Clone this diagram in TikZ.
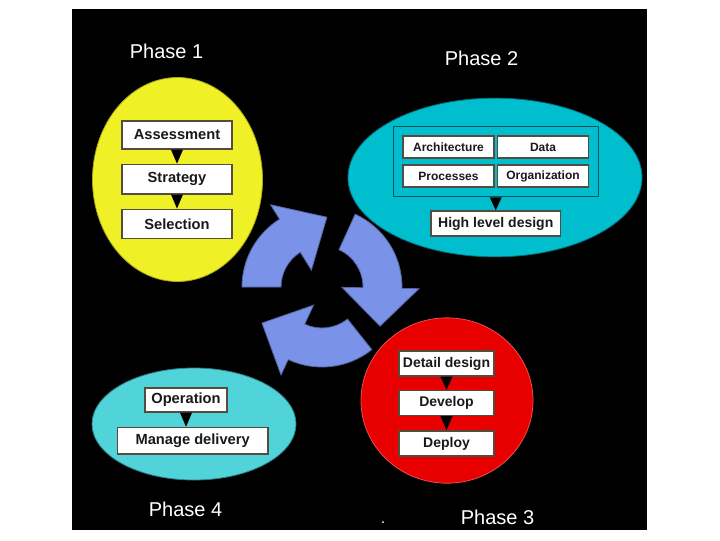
\documentclass[tikz,border=0pt]{standalone}
\usepackage{fontspec}
\setmainfont{Liberation Sans}
\usepackage{xcolor}
\usetikzlibrary{shapes.geometric, positioning, fit}
\definecolor{phyellow}{RGB}{240,240,38}
\definecolor{phcyan}{RGB}{0,190,206}
\definecolor{phcyanlt}{RGB}{80,212,218}
\definecolor{phred}{RGB}{232,0,0}
\definecolor{cycblue}{RGB}{122,146,232}
\definecolor{boxline}{RGB}{85,75,65}
\definecolor{boxtext}{RGB}{25,25,25}
\tikzstyle{phase}      = [ellipse, inner sep=0pt, line width=0.6pt]
\tikzstyle{phaselabel} = [text=white, font=\fontsize{15}{16}\selectfont]
\tikzstyle{stepbox}    = [rectangle, draw=boxline, line width=1.1pt, fill=white,
                          inner sep=0pt, text=boxtext,
                          font=\bfseries\fontsize{11}{12}\selectfont]
\tikzstyle{subbox}     = [stepbox, minimum width=68pt, minimum height=16.5pt,
                          font=\bfseries\fontsize{9}{10}\selectfont]
\tikzstyle{tri}        = [fill=black]
\tikzstyle{cyclearrow} = [fill=cycblue, draw=cycblue!70!black, line width=0.6pt]
% one curved arrow of the cycle: tail angle, head base angle, tip angle
\newcommand{\turnarrow}[3]{%
  \filldraw[cyclearrow] (#1:80) arc[start angle=#1, end angle=#2, radius=80]
    -- (#2:97) -- (#3:70) -- (#2:20) -- (#2:41)
    arc[start angle=#2, end angle=#1, radius=41] -- cycle;}

\begin{document}
\begin{tikzpicture}[x=0.75pt, y=-0.75pt]

  \fill[white] (0,0) rectangle (720,540);
  \useasboundingbox (0,0) rectangle (720,540);
  \fill[black] (72,9) rectangle (647,530);

  % phase areas
  \node[phase, fill=phyellow, draw=phyellow!70!black,
        minimum width=127.5pt, minimum height=153pt] (ph1) at (177.5,179.5) {};
  \node[phase, fill=phcyan, draw=phcyan!60!black,
        minimum width=220.5pt, minimum height=119pt] (ph2) at (495,177.5) {};
  \node[phase, fill=phred, draw=phred!70!white,
        minimum width=129pt, minimum height=124pt] (ph3) at (447,400.5) {};
  \node[phase, fill=phcyanlt, draw=phcyanlt!60!black,
        minimum width=153pt, minimum height=84pt] (ph4) at (194,424) {};

  \node[phaselabel] (lab1) at (166.5,51) {Phase 1};
  \node[phaselabel] (lab2) at (481.5,58) {Phase 2};
  \node[phaselabel] (lab3) at (497.5,517) {Phase 3};
  \node[phaselabel] (lab4) at (185.5,509) {Phase 4};
  \fill[white] (383,522) circle[radius=1];

  % cycle arrows
  \begin{scope}[shift={(322,287)}]
    \turnarrow{180}{238}{274}
    \turnarrow{294.5}{361}{394}
    \turnarrow{51.5}{115}{149}
  \end{scope}

  % phase 1
  \node[stepbox, minimum width=82.5pt, minimum height=21pt] (assess) at (177,135) {Assessment};
  \node[stepbox, minimum width=82.5pt, minimum height=22pt, below=10.5pt of assess] (strat) {Strategy};
  \node[stepbox, minimum width=82.5pt, minimum height=22pt, below=10.5pt of strat] (select) {Selection};
  \fill[tri] ([xshift=-4.5pt]assess.south) -- ([xshift=4.5pt]assess.south) -- (strat.north) -- cycle;
  \fill[tri] ([xshift=-4.5pt]strat.south) -- ([xshift=4.5pt]strat.south) -- (select.north) -- cycle;

  % phase 2
  \node[subbox] (arch) at (448.5,147) {Architecture};
  \node[subbox] (data) at (543,147) {Data};
  \node[subbox] (proc) at (448.5,176) {Processes};
  \node[subbox] (org) at (543,176) {Organization};
  \node[fit=(arch)(data)(proc)(org), draw=phcyan!45!black, line width=0.8pt,
        inner sep=6.75pt] (grp) {};
  \node[stepbox, minimum width=97pt, minimum height=18.75pt,
        font=\bfseries\fontsize{10.5}{12}\selectfont, below=9.75pt of grp] (hld) {High level design};
  \fill[tri] ([xshift=-4.5pt]grp.south) -- ([xshift=4.5pt]grp.south) -- (hld.north) -- cycle;

  % phase 3
  \tikzstyle{devbox} = [stepbox, minimum width=71pt, minimum height=18.75pt,
                        font=\bfseries\fontsize{10.5}{12}\selectfont]
  \node[devbox] (detail) at (446.5,363.5) {Detail design};
  \node[devbox, below=9.75pt of detail] (develop) {Develop};
  \node[devbox, below=10.5pt of develop] (deploy) {Deploy};
  \fill[tri] ([xshift=-4.5pt]detail.south) -- ([xshift=4.5pt]detail.south) -- (develop.north) -- cycle;
  \fill[tri] ([xshift=-4.5pt]develop.south) -- ([xshift=4.5pt]develop.south) -- (deploy.north) -- cycle;

  % phase 4
  \node[stepbox, minimum width=61.5pt, minimum height=18pt] (oper) at (186,400) {Operation};
  \node[stepbox, minimum width=113pt, minimum height=20pt, below=10.5pt of oper, xshift=5pt] (manage) {Manage delivery};
  \fill[tri] ([xshift=-4.5pt]oper.south) -- ([xshift=4.5pt]oper.south) -- (manage.north -| oper.south) -- cycle;

\end{tikzpicture}
\end{document}
